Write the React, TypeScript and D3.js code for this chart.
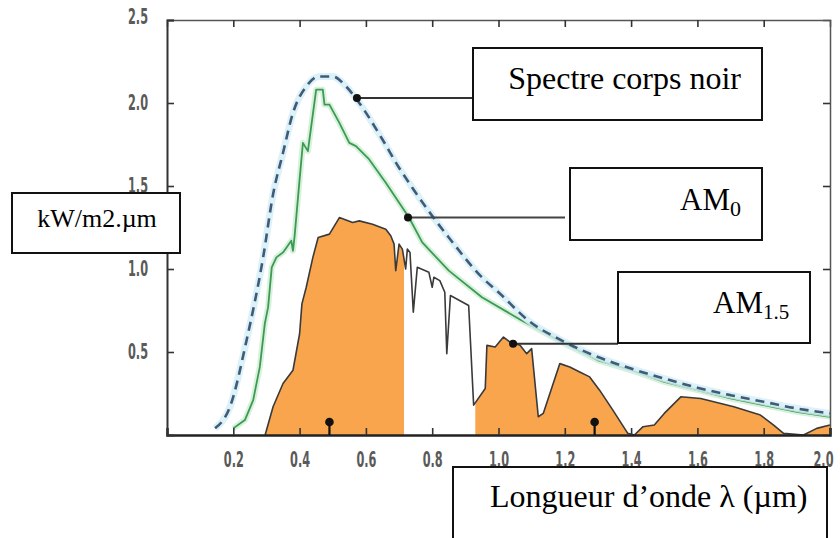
import React, { useEffect, useRef } from 'react';
import * as d3 from 'd3';

// wavelength (µm) / spectral irradiance (kW/m2.µm)
const blackBodyX = [0.145, 0.19, 0.24, 0.29, 0.32, 0.35, 0.38, 0.42, 0.46, 0.5, 0.54, 0.58, 0.65, 0.7, 0.74, 0.8, 0.85, 0.95, 1.0, 1.09, 1.2, 1.3, 1.4, 1.5, 1.6, 1.7, 1.8, 1.9, 2.0];
const blackBodyY = [0.04, 0.17, 0.57, 1.07, 1.45, 1.7, 1.94, 2.1, 2.16, 2.16, 2.1, 2.0, 1.78, 1.61, 1.49, 1.32, 1.19, 0.95, 0.86, 0.69, 0.56, 0.47, 0.4, 0.34, 0.285, 0.24, 0.2, 0.16, 0.13];

const am0X = [0.2, 0.235, 0.26, 0.28, 0.295, 0.305, 0.316, 0.33, 0.35, 0.375, 0.38, 0.385, 0.4, 0.41, 0.425, 0.45, 0.47, 0.475, 0.49, 0.52, 0.55, 0.57, 0.61, 0.66, 0.73, 0.77, 0.85, 0.95, 1.07, 1.2, 1.3, 1.4, 1.5, 1.6, 1.7, 1.8, 1.9, 2.0];
const am0Y = [0.04, 0.09, 0.21, 0.41, 0.67, 0.77, 1.01, 1.07, 1.1, 1.17, 1.11, 1.2, 1.54, 1.76, 1.71, 2.08, 2.08, 1.99, 1.99, 1.88, 1.76, 1.74, 1.66, 1.52, 1.31, 1.16, 0.99, 0.83, 0.69, 0.55, 0.45, 0.39, 0.32, 0.27, 0.22, 0.18, 0.14, 0.11];

const am15X = [0.296, 0.32, 0.35, 0.38, 0.4, 0.407, 0.42, 0.44, 0.456, 0.49, 0.52, 0.56, 0.58, 0.62, 0.66, 0.675, 0.685, 0.69, 0.7, 0.71, 0.72, 0.725, 0.733, 0.743, 0.755, 0.79, 0.8, 0.805, 0.823, 0.838, 0.844, 0.855, 0.91, 0.925, 0.96, 0.965, 0.99, 1.015, 1.035, 1.065, 1.085, 1.1, 1.12, 1.135, 1.185, 1.215, 1.245, 1.275, 1.305, 1.345, 1.39, 1.41, 1.436, 1.47, 1.5, 1.55, 1.61, 1.71, 1.79, 1.83, 1.86, 1.92, 1.96, 2.0];
const am15Y = [0.0, 0.17, 0.31, 0.39, 0.61, 0.79, 0.89, 1.07, 1.19, 1.21, 1.31, 1.28, 1.29, 1.27, 1.24, 1.2, 1.15, 0.99, 1.15, 1.12, 1.0, 1.12, 1.1, 0.74, 1.01, 0.98, 0.89, 0.95, 0.93, 0.86, 0.49, 0.84, 0.78, 0.18, 0.28, 0.54, 0.53, 0.59, 0.56, 0.54, 0.49, 0.52, 0.11, 0.13, 0.43, 0.41, 0.38, 0.35, 0.27, 0.15, 0.01, 0.0, 0.05, 0.06, 0.13, 0.23, 0.22, 0.17, 0.12, 0.06, 0.01, 0.0, 0.04, 0.06];

// wavelength bands where the AM1.5 area is filled
const filledBands: [number, number][] = [[0, 0.715], [0.93, 2.0]];

const xTicks = [0.2, 0.4, 0.6, 0.8, 1.0, 1.2, 1.4, 1.6, 1.8, 2.0];
const yTicks = [0.5, 1.0, 1.5, 2.0, 2.5];

// leader dots on the curves
const leaderX = [0.573, 0.727, 1.044];
const leaderY = [2.03, 1.31, 0.55];
const pinX = [0.49, 1.29];

const zip = (xs: number[], ys: number[]) => xs.map((x, i) => [x, ys[i]] as [number, number]);

export default function App() {
  const axesRef = useRef<SVGGElement>(null);

  const x = d3.scaleLinear().domain([0, 2]).range([167, 830]);
  const y = d3.scaleLinear().domain([0, 2.5]).range([435, 20]);

  const line = d3.line<[number, number]>().x(d => x(d[0])).y(d => y(d[1]));
  const smooth = d3.line<[number, number]>().x(d => x(d[0])).y(d => y(d[1])).curve(d3.curveMonotoneX);
  const area = d3.area<[number, number]>().x(d => x(d[0])).y0(y(0)).y1(d => y(d[1]));

  const bb = zip(blackBodyX, blackBodyY);
  const am0 = zip(am0X, am0Y);
  const am15 = zip(am15X, am15Y);

  useEffect(() => {
    if (!axesRef.current) return;
    const g = d3.select(axesRef.current);
    const fmt = (d: d3.NumberValue) => (+d).toFixed(1);

    g.select<SVGGElement>('.x-bottom').call(d3.axisBottom(x).tickValues(xTicks).tickSize(-7).tickPadding(17).tickFormat(fmt));
    g.select<SVGGElement>('.x-top').call(d3.axisTop(x).tickValues(xTicks.slice(0, -1)).tickSize(-7).tickFormat(() => ''));
    g.select<SVGGElement>('.y-left').call(d3.axisLeft(y).tickValues(yTicks).tickSize(-7).tickPadding(19).tickFormat(fmt));
    g.select<SVGGElement>('.y-right').call(d3.axisRight(y).tickValues(yTicks.slice(0, -1)).tickSize(-7).tickFormat(() => ''));

    g.selectAll('.domain').attr('stroke', '#555').attr('stroke-width', 1.5);
    g.select('.x-bottom .domain').attr('stroke', '#222').attr('stroke-width', 2.5);
    g.select('.y-left .domain').attr('stroke', '#333').attr('stroke-width', 2);
    g.selectAll('.tick line').attr('stroke', '#333').attr('stroke-width', 1.6);
    g.selectAll('.tick text')
      .attr('fill', '#5a5a5a')
      .attr('font-family', '"DejaVu Sans Condensed", "Liberation Sans", sans-serif')
      .attr('font-size', 21)
      .attr('font-weight', 'bold')
      .attr('textLength', 20)
      .attr('lengthAdjust', 'spacingAndGlyphs');
    // the last wavelength label sits at the frame edge
    g.select('.x-bottom').selectAll<SVGTextElement, number>('.tick text')
      .filter(d => d === 2.0)
      .attr('text-anchor', 'end')
      .attr('x', 3);
    g.select('.y-left').selectAll<SVGTextElement, number>('.tick text')
      .filter(d => d === 2.5)
      .attr('y', -3);
  }, []);

  const serif = '"Liberation Serif", "Times New Roman", serif';

  return (
    <svg width={840} height={538} style={{ position: 'absolute', left: 0, top: 0, background: '#fff' }}>
      <defs>
        <clipPath id="bands">
          {filledBands.map(([a, b], i) => (
            <rect key={i} x={x(a)} y={y(2.5)} width={x(b) - x(a)} height={y(0) - y(2.5)} />
          ))}
        </clipPath>
      </defs>

      {/* AM1.5 */}
      <path d={area(am15) ?? ''} fill="#f8a54e" clipPath="url(#bands)" />
      <path d={line(am15) ?? ''} fill="none" stroke="#3a3a3a" strokeWidth={1.6} strokeLinejoin="round" />

      {/* AM0 */}
      <path d={line(am0) ?? ''} fill="none" stroke="#cdeed5" strokeWidth={6} strokeLinejoin="round" opacity={0.8} />
      <path d={line(am0) ?? ''} fill="none" stroke="#3c9a52" strokeWidth={1.8} strokeLinejoin="round" />

      {/* black body */}
      <path d={smooth(bb) ?? ''} fill="none" stroke="#d4eef6" strokeWidth={7} opacity={0.8} />
      <path d={smooth(bb) ?? ''} fill="none" stroke="#3f5b78" strokeWidth={2.6} strokeDasharray="9 6" />

      <g ref={axesRef}>
        <g className="x-top" transform={`translate(0,${y(2.5)})`} />
        <g className="y-right" transform={`translate(${x(2)},0)`} />
        <g className="x-bottom" transform={`translate(0,${y(0)})`} />
        <g className="y-left" transform={`translate(${x(0)},0)`} />
      </g>

      {/* pins on the wavelength axis */}
      {pinX.map((p, i) => (
        <g key={i}>
          <line x1={x(p)} x2={x(p)} y1={y(0) - 12} y2={y(0)} stroke="#111" strokeWidth={2.2} />
          <circle cx={x(p)} cy={y(0) - 13} r={4.3} fill="#111" />
        </g>
      ))}

      {/* leader lines */}
      <line x1={x(leaderX[0])} x2={473} y1={y(leaderY[0])} y2={y(leaderY[0])} stroke="#333" strokeWidth={2} />
      <line x1={x(leaderX[1])} x2={565} y1={y(leaderY[1])} y2={y(leaderY[1])} stroke="#444" strokeWidth={2} />
      <line x1={x(leaderX[2])} x2={618} y1={y(leaderY[2])} y2={y(leaderY[2])} stroke="#333" strokeWidth={2} />
      {leaderX.map((lx, i) => (
        <circle key={i} cx={x(lx)} cy={y(leaderY[i])} r={4} fill="#111" />
      ))}

      {/* annotation boxes */}
      <g fill="#fff" stroke="#111" strokeWidth={2}>
        <rect x={473} y={48} width={289} height={72} />
        <rect x={570} y={168} width={192} height={72} />
        <rect x={618} y={272} width={192} height={71} />
        <rect x={12} y={193} width={168} height={60} />
        <rect x={453} y={467} width={374} height={90} />
      </g>
      <g fontFamily={serif} fill="#000">
        <text x={741} y={89} fontSize={32} textAnchor="end">Spectre corps noir</text>
        <text x={680} y={210} fontSize={31}>AM<tspan fontSize={22} dy={6}>0</tspan></text>
        <text x={713} y={313} fontSize={31}>AM<tspan fontSize={21} dy={6}>1.5</tspan></text>
        <text x={97} y={227} fontSize={26} textAnchor="middle" fontFamily={serif}>kW/m2.µm</text>
        <text x={490} y={507} fontSize={32}>Longueur d’onde λ (µm)</text>
      </g>
    </svg>
  );
}
